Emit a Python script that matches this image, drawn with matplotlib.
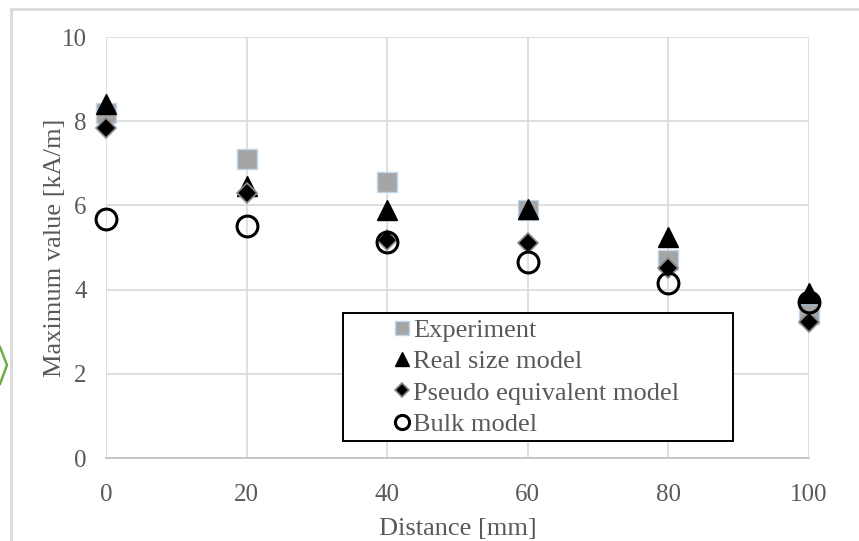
import matplotlib.pyplot as plt
from matplotlib.patches import Rectangle
from matplotlib.lines import Line2D

distance = [0, 20, 40, 60, 80, 100]
experiment = [8.19, 7.10, 6.56, 5.88, 4.70, 3.42]
real_size = [8.42, 6.46, 5.88, 5.92, 5.25, 3.92]
pseudo_eq = [7.84, 6.29, 5.18, 5.10, 4.51, 3.23]
bulk = [5.68, 5.51, 5.13, 4.66, 4.15, 3.70]

plt.rcParams['font.family'] = ['Liberation Serif', 'DejaVu Serif']
txt = '#595959'

fig = plt.figure(figsize=(8.59, 5.41), dpi=100)
ax = fig.add_axes([0.1234, 0.1534, 0.8184, 0.7782])

ax.plot(distance, experiment, 's', ms=14, color='#A5A5A5', mec='#BDD7EE', mew=1,
        label='Experiment', zorder=3, clip_on=False)
ax.plot(distance, real_size, '^', ms=15, color='black', mec='black',
        label='Real size model', zorder=4, clip_on=False)
ax.plot(distance, pseudo_eq, 'D', ms=10, color='black', mec='#8C8C8C', mew=1.2,
        label='Pseudo equivalent model', zorder=5, clip_on=False)
ax.plot(distance, bulk, 'o', ms=15, mfc='none', mec='black', mew=2.2,
        label='Bulk model', zorder=6, clip_on=False)

ax.set_xlim(0, 100)
ax.set_ylim(0, 10)
ax.set_xticks(range(0, 101, 20))
ax.set_yticks(range(0, 11, 2))
ax.grid(True, color='#D9D9D9', lw=1.2)
ax.set_axisbelow(True)
for s in ['top', 'right', 'left']:
    ax.spines[s].set_visible(False)
ax.spines['bottom'].set_color('#BFBFBF')
ax.spines['bottom'].set_linewidth(1.2)
ax.tick_params(axis='y', length=0, labelsize=18, labelcolor=txt, pad=14)
ax.tick_params(axis='x', length=0, labelsize=18, labelcolor=txt, pad=19)
ax.set_xlabel('Distance [mm]', fontsize=19, color=txt, labelpad=8)
ax.set_ylabel('Maximum value [kA/m]', fontsize=19, color=txt, labelpad=-3)

# legend box drawn separately so the entries can sit indented like the original
ax.add_patch(Rectangle((0.337, 0.0404), 0.555, 0.304, transform=ax.transAxes,
                       fill=True, fc='white', ec='black', lw=1.4, zorder=9,
                       clip_on=False))
leg = ax.legend(loc='center left', bbox_to_anchor=(0.41, 0.192),
                fontsize=19, markerscale=0.68, frameon=False,
                handlelength=0.6, handletextpad=0.12, labelspacing=0.3,
                borderpad=0, borderaxespad=0)
for t in leg.get_texts():
    t.set_color(txt)
leg.set_zorder(10)

# outer chart border and stray shape at the left edge
fig.add_artist(Rectangle((11 / 859, -0.1), 1.2, 1 - 9 / 541 + 0.1, transform=fig.transFigure,
                         fill=False, ec='#D9D9D9', lw=2))
fig.add_artist(Line2D([0, 7 / 859, 0], [1 - 347 / 541, 1 - 365 / 541, 1 - 384 / 541],
                      transform=fig.transFigure, color='#70AD47', lw=1.8))

fig.savefig('out.png', dpi=100)
